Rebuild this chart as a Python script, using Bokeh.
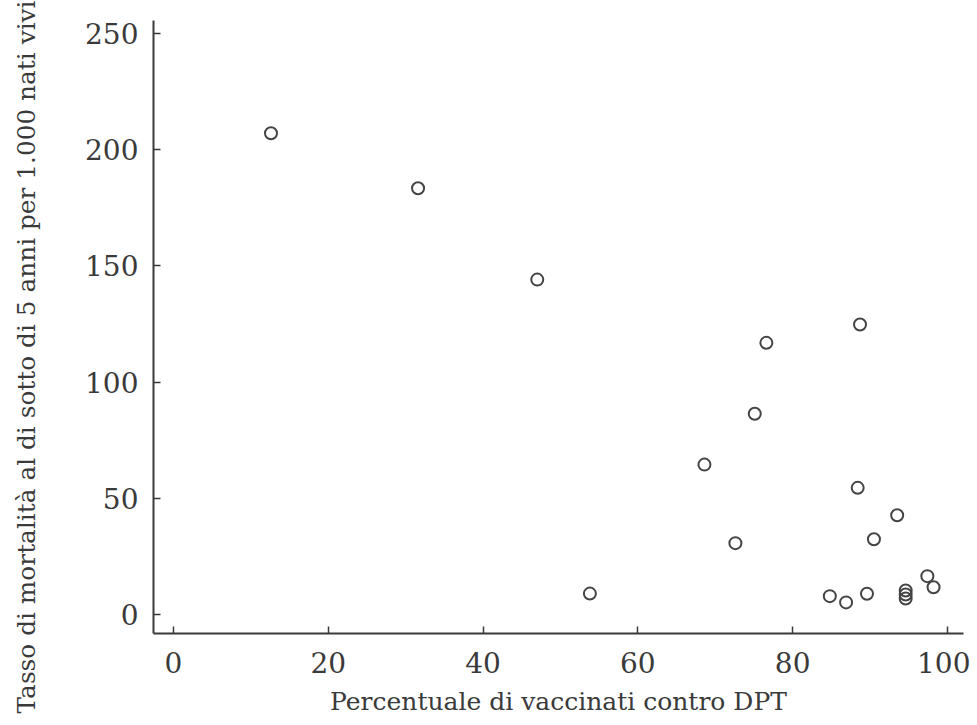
from bokeh.plotting import figure
from bokeh.models import Range1d, FixedTicker, Title
from bokeh.layouts import row
from bokeh.embed import file_html
from bokeh.resources import INLINE

# Data
dpt_coverage = [12.6, 31.6, 47.0, 76.6, 88.7, 75.1, 68.6, 88.4, 93.5, 90.5,
                72.6, 97.4, 98.2, 84.8, 86.9, 89.6, 94.6, 94.6, 94.6, 53.8]
under5_mortality = [207.1, 183.4, 144.1, 116.9, 124.8, 86.4, 64.5, 54.5, 42.7, 32.4,
                    30.7, 16.5, 11.7, 7.9, 5.2, 8.9, 10.3, 8.6, 6.9, 9.0]
x_ticks = [0, 20, 40, 60, 80, 100]
y_ticks = [0, 50, 100, 150, 200, 250]
x_title = "Percentuale di vaccinati contro DPT"
y_title = "Tasso di mortalità al di sotto di 5 anni per 1.000 nati vivi"

FONT = "DejaVu Serif"
INK = "#3a3a3a"
H = 724
LW = 60  # width of the strip holding the vertical title

# Narrow strip on the left carrying the rotated y title
side = figure(width=LW, height=H, x_range=Range1d(0, 1), y_range=Range1d(0, 1),
              x_axis_location=None, y_axis_location=None,
              output_backend="svg", toolbar_location=None,
              min_border_left=0, min_border_right=0,
              min_border_top=20, min_border_bottom=91)
side.xgrid.visible = False
side.ygrid.visible = False
side.outline_line_color = None
side.background_fill_color = "white"
side.border_fill_color = "white"
side.add_layout(Title(text=y_title, align="left", vertical_align="top",
                      offset=-80, standoff=22,
                      text_font=FONT, text_font_size="24.8px",
                      text_font_style="normal", text_color=INK), "left")

# Main scatter plot
p = figure(width=970 - LW, height=H,
           x_range=Range1d(-2.58, 102.07), y_range=Range1d(-8.18, 255.6),
           output_backend="svg", toolbar_location=None,
           min_border_left=153 - LW, min_border_right=7,
           min_border_top=20, min_border_bottom=91)

p.xgrid.visible = False
p.ygrid.visible = False
p.outline_line_color = None
p.background_fill_color = "white"
p.border_fill_color = "white"

for ax, ticks in ((p.xaxis[0], x_ticks), (p.yaxis[0], y_ticks)):
    ax.ticker = FixedTicker(ticks=ticks)
    ax.axis_line_color = INK
    ax.axis_line_width = 2
    ax.major_tick_line_color = INK
    ax.major_tick_line_width = 1.5
    ax.major_tick_in = 7
    ax.major_tick_out = 0
    ax.minor_tick_line_color = None
    ax.major_label_text_font = FONT
    ax.major_label_text_font_size = "28px"
    ax.major_label_text_color = INK

p.xaxis.major_label_standoff = 18
p.yaxis.major_label_standoff = 15

p.xaxis.axis_label = x_title
p.xaxis.axis_label_text_font = FONT
p.xaxis.axis_label_text_font_size = "25px"
p.xaxis.axis_label_text_font_style = "normal"
p.xaxis.axis_label_text_color = INK
p.xaxis.axis_label_standoff = 11

p.scatter(dpt_coverage, under5_mortality, marker="circle", size=12,
          fill_color=None, line_color="#444444", line_width=2)

layout = row(side, p, spacing=0)
open("out.html", "w").write(file_html(layout, INLINE))
